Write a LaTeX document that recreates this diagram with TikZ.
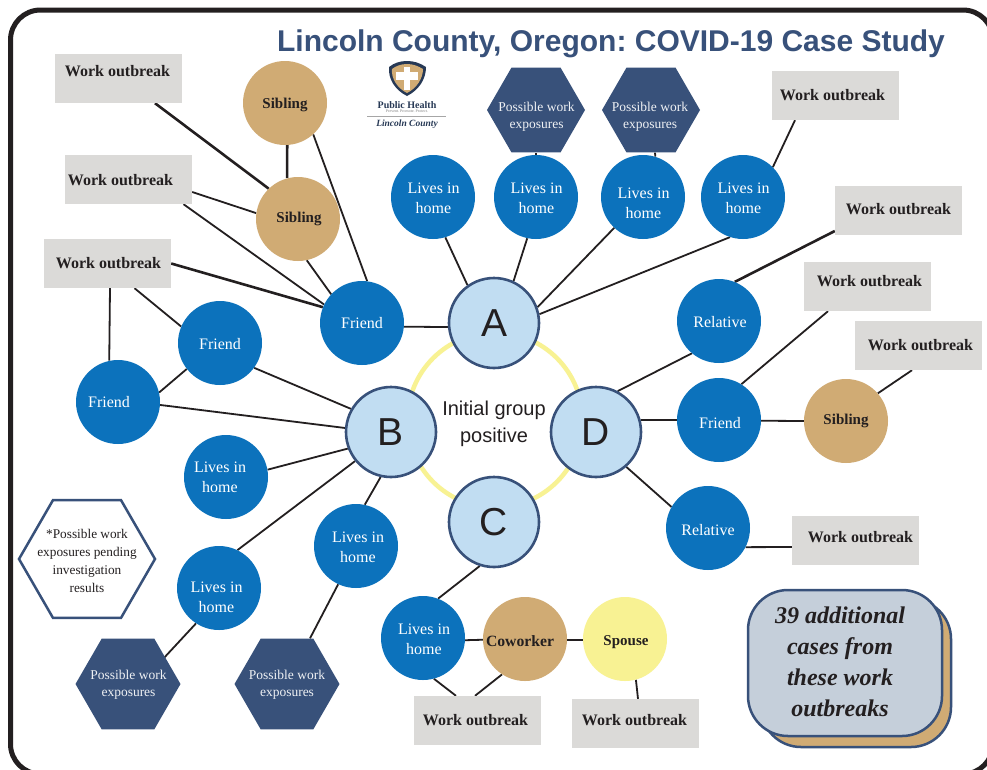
\documentclass[tikz,border=0pt]{standalone}
\usepackage{fontspec}
\setmainfont{Liberation Serif}
\newfontfamily\hfont{Liberation Sans}
\frenchspacing
\usetikzlibrary{shapes.geometric}
\definecolor{navy}{HTML}{38517A}
\definecolor{blueA}{HTML}{0C72BC}
\definecolor{tanC}{HTML}{D0AB74}
\definecolor{greyB}{HTML}{DBDAD8}
\definecolor{paleB}{HTML}{C1DDF2}
\definecolor{yel}{HTML}{F8F293}
\definecolor{ink}{HTML}{231F20}
\definecolor{slate}{HTML}{C5CFDA}
\pgfdeclarelayer{bgl}
\pgfdeclarelayer{ringl}
\pgfdeclarelayer{edgel}
\pgfsetlayers{bgl,ringl,edgel,main}
\tikzset{
  x=1pt,y=-1pt,
  blue/.style n args={3}{circle,fill=blueA,minimum size=84pt,inner sep=0pt,
    label={[text=white,align=center,inner sep=0pt,font=\fontsize{16}{20}\selectfont,xshift=#1pt,yshift=#2pt]center:#3}},
  tan/.style n args={3}{circle,fill=tanC,minimum size=84pt,inner sep=0pt,
    label={[text=ink,align=center,inner sep=0pt,font=\fontsize{15}{18}\selectfont\bfseries,xshift=#1pt,yshift=#2pt]center:#3}},
  hub/.style={circle,fill=paleB,draw=navy,line width=2.6pt,minimum size=90pt,inner sep=0pt,text=ink,font=\hfont\fontsize{39}{44}\selectfont},
  wo/.style 2 args={rectangle,fill=greyB,minimum width=127pt,minimum height=49pt,inner sep=0pt,
    label={[text=ink,font=\fontsize{16}{18}\selectfont\bfseries,inner sep=0pt,xshift=#1pt,yshift=#2pt]center:Work outbreak}},
  hexa/.style={regular polygon,regular polygon sides=6,fill=navy,inner sep=0pt},
  hext/.style={text=white!92!navy,align=center,inner sep=0pt,font=\fontsize{13.5}{17}\selectfont},
  edge/.style={draw=ink,line width=1.8pt},
  edgeb/.style={draw=ink,line width=2.6pt},
}
\begin{document}
\begin{tikzpicture}
\useasboundingbox (0,0) rectangle (987,769);
\begin{pgfonlayer}{bgl}
\fill[white] (0,0) rectangle (987,769);
\begin{scope}
\clip (0,0) rectangle (987,769);
\draw[ink,line width=5pt,rounded corners=30pt,fill=white] (10.5,10) rectangle (993,774);
\end{scope}
\end{pgfonlayer}
\node[text=navy,font=\hfont\bfseries\fontsize{30}{36}\selectfont,anchor=center] (title) at (611,44) {Lincoln County, Oregon: COVID-19 Case Study};

% logo
\fill[navy!70!black] (407,61) .. controls (414,61) and (420,63) .. (426,67) .. controls (426,79) and (419,90) .. (407,96) .. controls (395,90) and (388,79) .. (389,67) .. controls (394,63) and (400,61) .. (407,61) -- cycle;
\fill[tanC] (407,64) .. controls (413,64) and (418,66) .. (423,69) .. controls (423,78) and (417,88) .. (407,93) .. controls (397,88) and (391,78) .. (392,69) .. controls (396,66) and (401,64) .. (407,64) -- cycle;
\fill[white] (404,67) rectangle (410,90);
\fill[white] (396,72) rectangle (418,80);
\node[text=navy!70!black,font=\fontsize{10}{11}\selectfont\bfseries] (ph) at (407,105) {Public Health};
\node[text=gray,font=\fontsize{4}{5}\selectfont] (pp) at (407,111) {Prevent. Promote. Protect.};
\draw[gray!70,line width=.6pt] (367,116.5) -- (446,116.5);
\node[text=navy!70!black,font=\fontsize{9.5}{11}\selectfont\bfseries\itshape] (lc) at (407,124) {Lincoln County};

% hubs
\node[hub] (A) at (494,323) {A};
\node[hub] (B) at (391,432) {B};
\node[hub] (C) at (494,522) {C};
\node[hub] (D) at (596,432) {D};
\node[font=\hfont\fontsize{20}{27}\selectfont,text=ink,align=center] (init) at (494,424) {Initial group\\positive};
\begin{pgfonlayer}{ringl}
\node[circle,draw=yel,line width=4.5pt,minimum size=175pt,inner sep=0pt] (ring) at (495,420) {};
\end{pgfonlayer}

% blue
\node[blue={0}{0}{Friend}] (fa) at (362,323) {};
\node[blue={0}{-1}{Friend}] (fb) at (220,343) {};
\node[blue={-9}{0}{Friend}] (fc) at (118,402) {};
\node[blue={-6}{0}{Lives in\\home}] (lb1) at (226,477) {};
\node[blue={-2.5}{-9.5}{Lives in\\home}] (lb2) at (219,588) {};
\node[blue={2}{-1.5}{Lives in\\home}] (lb3) at (356,546) {};
\node[blue={1}{-1.5}{Lives in\\home}] (lc1) at (423,638) {};
\node[blue={0.5}{-1.5}{Lives in\\home}] (la1) at (433,197) {};
\node[blue={0.5}{-1.5}{Lives in\\home}] (la2) at (536,197) {};
\node[blue={0.5}{-6.5}{Lives in\\home}] (la3) at (643,197) {};
\node[blue={0.5}{-1.5}{Lives in\\home}] (la4) at (743,197) {};
\node[blue={1}{-1}{Relative}] (rd1) at (719,321) {};
\node[blue={1}{-3}{Friend}] (fd) at (719,420) {};
\node[blue={0}{-2}{Relative}] (rd2) at (708,528) {};

% tan
\node[tan={0}{-2}{Sibling}] (s1) at (285,103) {};
\node[tan={1}{0}{Sibling}] (s2) at (298,219) {};
\node[tan={0}{0}{Sibling}] (s3) at (846,421) {};
\node[tan={-5}{-2}{\fontsize{15.7}{18}\selectfont Coworker}] (cw) at (525,639) {};
\node[tan={1}{-3.5}{Spouse},fill=yel] (sp) at (625,639) {};

% work outbreak
\node[wo={-1}{7}] (w1) at (118.5,78.5) {};
\node[wo={-8}{-1}] (w2) at (128.5,179.5) {};
\node[wo={1}{0}] (w3) at (107.5,263.5) {};
\node[wo={-3}{0}] (w4) at (835.5,95.5) {};
\node[wo={0}{1}] (w5) at (898.5,210.5) {};
\node[wo={2}{5}] (w6) at (867.5,286.5) {};
\node[wo={2}{0}] (w7) at (918.5,345.5) {};
\node[wo={5}{3}] (w8) at (855.5,540.5) {};
\node[wo={-2}{0}] (w9) at (477.5,720.5) {};
\node[wo={-1}{3}] (w10) at (635.5,723.5) {};

% hexagons
\node[hexa,minimum size=98pt,label={[hext,yshift=-7pt,xshift=.5pt]center:Possible work\\exposures}] (h1) at (536,110) {};
\node[hexa,minimum size=98pt,label={[hext,yshift=-7pt,xshift=-1pt]center:Possible work\\exposures}] (h2) at (651,110) {};
\node[hexa,minimum size=105pt,label={[hext,yshift=-1pt,xshift=.5pt]center:Possible work\\exposures}] (h3) at (128,684) {};
\node[hexa,minimum size=105pt,label={[hext,yshift=-1pt]center:Possible work\\exposures}] (h4) at (287,684) {};
\node[hexa,fill=white,draw=navy,line width=2.5pt,minimum size=136pt,label={[hext,text=ink,font=\fontsize{13.3}{18.2}\selectfont,yshift=-2pt]center:*Possible work\\exposures pending\\investigation\\results}] (h5) at (87,559) {};

% summary box
\node[rectangle,rounded corners=40pt,fill=tanC,draw=navy,line width=2.5pt,minimum width=190pt,minimum height=148pt] (back) at (856,673) {};
\node[rectangle,rounded corners=40pt,fill=slate,draw=navy,line width=2.5pt,minimum width=194pt,minimum height=146pt,
  label={[align=center,text=ink,inner sep=0pt,font=\fontsize{24}{31}\selectfont\bfseries\itshape,xshift=-5pt,yshift=1pt]center:39 additional\\cases from\\these work\\outbreaks}] (front) at (845,663) {};

\begin{pgfonlayer}{edgel}
\path[edgeb] ([xshift=36.5pt]w1.south) edge (s2.134);
\path[edgeb] (s1.-87) edge (s2.105);
\path[edge] (s1.-48) edge (fa.83);
\path[edge] ([yshift=-12.5pt]w2.east) edge (s2.172);
\path[edge] ([xshift=55pt]w2.south) edge (fa.154);
\path[edge] (s2.-78) edge (fa.137);
\path[edgeb] (w3.east) edge (fa.158);
\path[edge] ([xshift=27pt]w3.south) edge (fb.157);
\path[edge] ([xshift=2.5pt]w3.south) edge (fc.102);
\path[edge] (fa.-5) edge (A.185);
\path[edge] (fb.218) edge (fc.13);
\path[edge] (fb.-36) edge (B.150);
\path[edge] (fc.-4) edge (B.175);
\path[edge] (lb1.10) edge (B.201);
\path[edge] (lb2.64) edge (B.219);
\path[edge] (lb3.78) edge (B.257);
\path[edge] (lb2.237) edge ([xshift=22pt,yshift=11pt]h3.center);
\path[edge] (lb3.245) edge ([xshift=23pt]h4.north);
\path[edge] (C.252) edge (lc1.69);
\path[edge] (lc1.-3) edge (cw.181);
\path[edge] (cw.-1) edge (sp.181);
\path[edge] (lc1.-75) edge ([xshift=-21.5pt]w9.north);
\path[edge] (cw.-123) edge ([xshift=-2.5pt]w9.north);
\path[edge] (sp.-75) edge ([xshift=2.5pt]w10.north);
\path[edge] (A.125) edge (la1.-73);
\path[edge] (A.65) edge (la2.-102);
\path[edge] (A.20) edge (la3.-133);
\path[edge] (A.11) edge (la4.-108);
\path[edge] (la2.90) edge (h1.south);
\path[edge] (la3.73) edge ([xshift=4pt]h2.south);
\path[edge] (la4.45) edge ([xshift=-40.5pt]w4.south);
\path[edge] (D.62) edge (rd1.-130);
\path[edge] (D.15) edge (fd.180);
\path[edge] (D.-49) edge (rd2.150);
\path[edgeb] (rd1.68) edge ([yshift=-20.5pt]w5.west);
\path[edge] (fd.58.6) edge ([xshift=-39.5pt]w6.south);
\path[edge] (fd.-1) edge (s3.180);
\path[edge] (s3.41) edge ([xshift=-6.5pt]w7.south);
\path[edge] (rd2.-27) edge ([yshift=-6.5pt]w8.west);
\end{pgfonlayer}
\end{tikzpicture}
\end{document}
